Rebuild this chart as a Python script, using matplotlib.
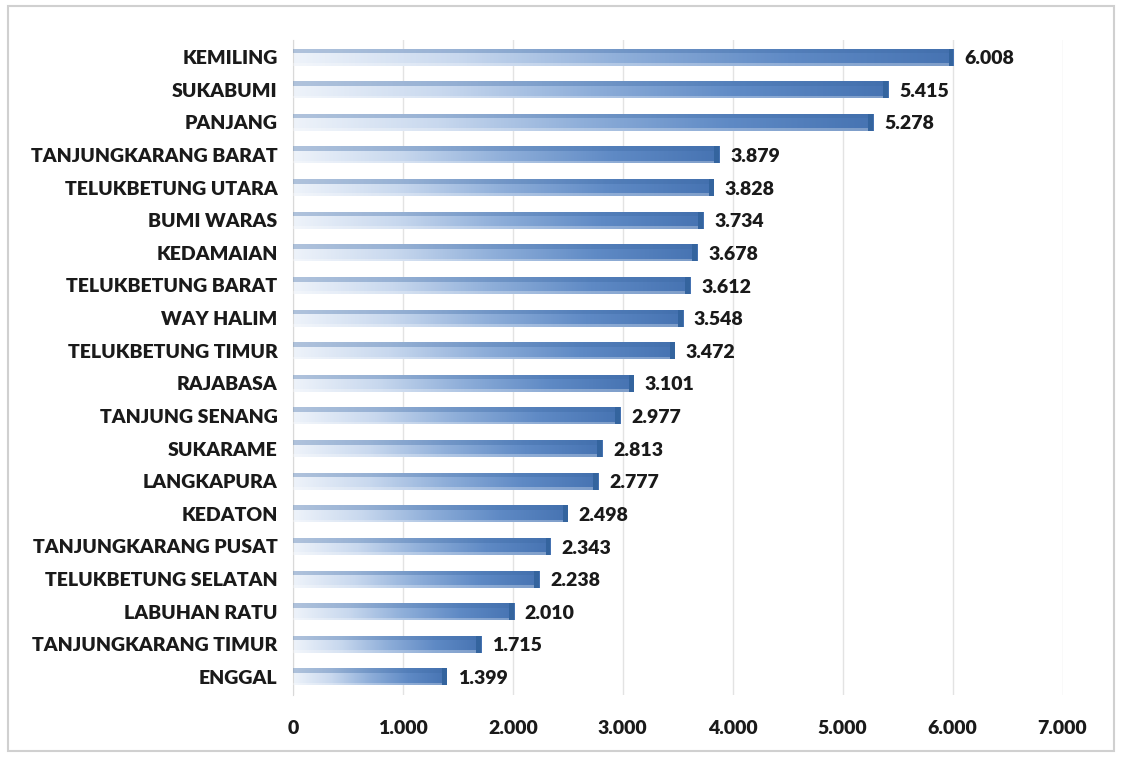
import numpy as np
import matplotlib.pyplot as plt
from matplotlib.colors import LinearSegmentedColormap
from matplotlib.patches import Rectangle

# Data (top to bottom as shown)
districts = ['KEMILING', 'SUKABUMI', 'PANJANG', 'TANJUNGKARANG BARAT', 'TELUKBETUNG UTARA',
             'BUMI WARAS', 'KEDAMAIAN', 'TELUKBETUNG BARAT', 'WAY HALIM', 'TELUKBETUNG TIMUR',
             'RAJABASA', 'TANJUNG SENANG', 'SUKARAME', 'LANGKAPURA', 'KEDATON',
             'TANJUNGKARANG PUSAT', 'TELUKBETUNG SELATAN', 'LABUHAN RATU', 'TANJUNGKARANG TIMUR', 'ENGGAL']
values = [6008, 5415, 5278, 3879, 3828, 3734, 3678, 3612, 3548, 3472,
          3101, 2977, 2813, 2777, 2498, 2343, 2238, 2010, 1715, 1399]
x_ticks = [0, 1000, 2000, 3000, 4000, 5000, 6000, 7000]

def fmt(v):
    return f'{v:,}'.replace(',', '.')

plt.rcParams['font.family'] = ['Lato', 'DejaVu Sans']
weight = 'heavy'

fig = plt.figure(figsize=(11.22, 7.57), dpi=100)
ax = fig.add_axes([0.261, 0.082, 0.686, 0.865])

# border around the chart
fig.patches.append(Rectangle((0.007, 0.008), 0.986, 0.984, transform=fig.transFigure,
                             fill=False, edgecolor='#d0d0d0', linewidth=1.5))

cmap = LinearSegmentedColormap.from_list('bar', ['#eef3fa', '#c8d8ee', '#8eaed9', '#5f8ac5', '#4673b2'])
n = len(values)
ypos = np.arange(n)[::-1]
h = 0.52

for y, v in zip(ypos, values):
    # horizontal gradient body
    grad = np.linspace(0, 1, 256).reshape(1, -1)
    ax.imshow(grad, cmap=cmap, aspect='auto', extent=(0, v, y - h / 2, y + h / 2),
              zorder=2, interpolation='bicubic')
    # darker top edge, light bottom edge
    ax.barh(y + h / 2 - 0.07, v, height=0.14, color='#3d6aa5', alpha=0.35, zorder=3, linewidth=0)
    ax.barh(y - h / 2 + 0.04, v, height=0.08, color='white', alpha=0.3, zorder=3, linewidth=0)
    # bar end cap
    ax.barh(y, 45, left=v - 45, height=h, color='#34649e', zorder=4, linewidth=0)
    ax.text(v + 100, y - 0.05, fmt(v), va='center', ha='left', fontsize=14,
            fontweight=weight, color='#1a1a1a', zorder=5)

ax.set_xlim(0, 7000)
ax.set_ylim(-0.55, n - 0.48)
ax.set_yticks(ypos)
ax.set_yticklabels(districts, fontsize=14, fontweight=weight, color='#1a1a1a')
ax.set_xticks(x_ticks)
ax.set_xticklabels([fmt(t) for t in x_ticks], fontsize=14, fontweight=weight, color='#1a1a1a')
ax.tick_params(axis='both', length=0)
ax.tick_params(axis='y', pad=11)
ax.tick_params(axis='x', pad=18)
ax.grid(axis='x', color='#e3e3e3', linewidth=1, zorder=0)
ax.set_axisbelow(True)
for s in ['top', 'right', 'bottom']:
    ax.spines[s].set_visible(False)
ax.spines['left'].set_color('#d9d9d9')

fig.savefig('out.png', dpi=100)
